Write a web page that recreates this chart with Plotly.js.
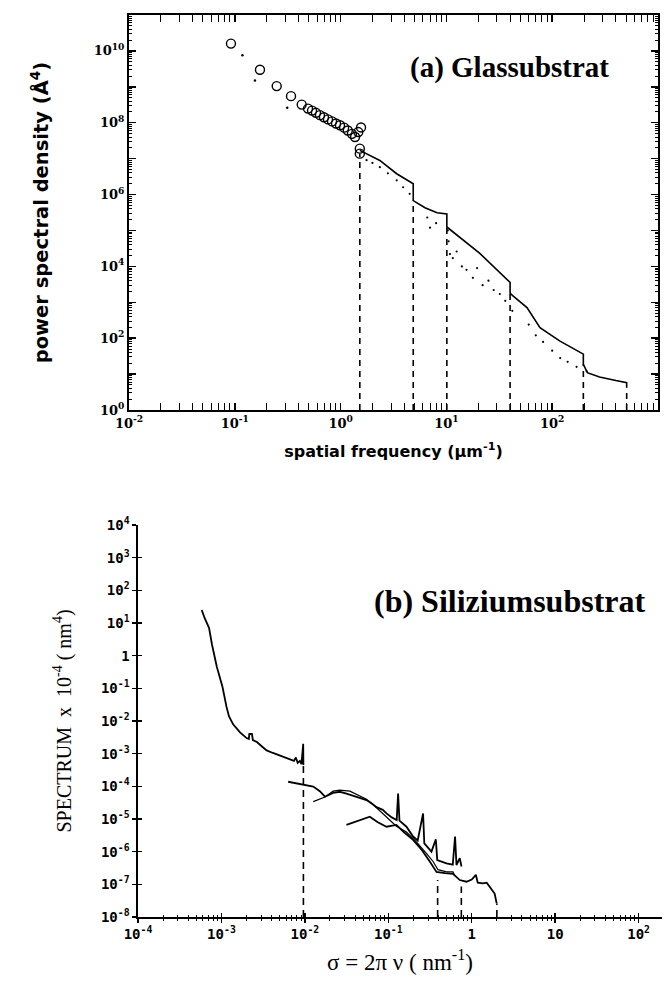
<!DOCTYPE html>
<html>
<head>
<meta charset="utf-8">
<script src="https://cdn.plot.ly/plotly-3.0.1.min.js"></script>
<style>html,body{margin:0;padding:0;background:#fff;}#chart{width:668px;height:988px;}</style>
</head>
<body>
<div id="chart"></div>
<script>
// ---------- Panel (a): Glassubstrat ----------
const circleFreqA = [0.092, 0.173, 0.249, 0.340, 0.429, 0.492, 0.537, 0.585, 0.638, 0.696, 0.760, 0.830, 0.905, 0.987, 1.08, 1.17, 1.28, 1.37, 1.47, 1.56, 1.52, 1.52];
const circlePsdA  = [1.6e10, 3.0e9, 1.05e9, 5.5e8, 3.2e8, 2.48e8, 2.18e8, 1.89e8, 1.63e8, 1.42e8, 1.24e8, 1.09e8, 9.5e7, 8.5e7, 7.3e7, 6.1e7, 4.9e7, 4.0e7, 5.5e7, 7.4e7, 1.9e7, 1.38e7];

const dotFreqA = [0.118, 0.155, 0.313];
const dotPsdA  = [7.6e9, 1.5e9, 2.6e8];

const lineFreqA = [1.52, 2.35, 3.39, 4.86, 4.86, 6.28, 8.15, 10.1, 10.1, 14.5, 20.7, 40, 40, 42.6, 57.8, 76.7, 118.6, 197, 197, 215, 280, 400, 506, 506];
const linePsdA  = [1.7e7, 8.9e6, 3.8e6, 2.0e6, 6.8e5, 4.3e5, 3.1e5, 2.9e5, 1.25e5, 5.2e4, 2.3e4, 3.6e3, 1.8e3, 1.5e3, 7.1e2, 1.95e2, 83, 36, 18.6, 11, 8.3, 6.6, 5.8, 4.2];

const scatFreqA = [1.76, 2.0, 2.35, 2.8, 3.39, 3.9, 4.5, 6.6, 7.0, 8.0, 10.3, 10.5, 10.8, 11.5, 12.5, 14, 15.5, 17.8, 19.5, 22, 25, 28, 32, 36, 42, 60, 70, 82, 100, 119, 140, 170, 212];
const scatPsdA  = [9.1e6, 7.6e6, 5.8e6, 3.9e6, 2.5e6, 1.6e6, 1.05e6, 2.3e5, 1.2e5, 1.6e5, 1.0e5, 5e4, 2.2e4, 1.7e4, 2.6e4, 1.0e4, 8e3, 4.8e3, 9e3, 3.0e3, 4e3, 2.2e3, 1.7e3, 1.1e3, 5.8e2, 2.4e2, 1.2e2, 79, 45, 28, 22, 16, 12];

const cutFreqA = [1.52, 4.86, 10.1, 40, 197, 506];
const cutPsdA  = [1.38e7, 6.8e5, 1.25e5, 1.8e3, 18.6, 4.2];

const xTickValsA = [1e-2, 1e-1, 1e0, 1e1, 1e2, 1e3];
const xTickTextA = ['10<sup>-2</sup>', '10<sup>-1</sup>', '10<sup>0</sup>', '10<sup>1</sup>', '10<sup>2</sup>', '10<sup>3</sup>'];
const yTickValsA = [1e0, 1e2, 1e4, 1e6, 1e8, 1e10];
const yTickTextA = ['10<sup>0</sup>', '10<sup>2</sup>', '10<sup>4</sup>', '10<sup>6</sup>', '10<sup>8</sup>', '10<sup>10</sup>'];
const yDecadeTicksA = [1e0, 1e1, 1e2, 1e3, 1e4, 1e5, 1e6, 1e7, 1e8, 1e9, 1e10, 1e11];

// ---------- Panel (b): Siliziumsubstrat ----------
const freqB1 = [5.8e-4, 6.3e-4, 7.1e-4, 7.7e-4, 8.8e-4, 1.03e-3, 1.15e-3, 1.23e-3, 1.38e-3, 1.67e-3, 2.0e-3, 2.13e-3, 2.16e-3, 2.32e-3, 2.38e-3, 2.64e-3, 3.06e-3, 3.48e-3, 4.14e-3, 5.0e-3, 5.76e-3, 6.6e-3, 7.4e-3, 7.8e-3, 8.2e-3, 8.7e-3, 9.1e-3, 9.55e-3, 9.6e-3];
const specB1 = [25, 14, 7.1, 2.2, 0.46, 0.11, 0.027, 0.014, 7.9e-3, 4.5e-3, 3.0e-3, 2.8e-3, 4.0e-3, 4.0e-3, 2.6e-3, 2.3e-3, 1.66e-3, 1.26e-3, 1.05e-3, 8.9e-4, 7.6e-4, 6.8e-4, 6.0e-4, 7.6e-4, 5.2e-4, 6.0e-4, 4.8e-4, 2.0e-3, 4.5e-4];

const freqB2 = [6.3e-3, 9.1e-3, 0.0126, 0.0151, 0.0174, 0.0218, 0.0262, 0.0315, 0.0397, 0.0456, 0.0548, 0.0634, 0.0722, 0.0859, 0.0951, 0.110, 0.126, 0.131, 0.136, 0.165, 0.198, 0.225, 0.261, 0.270, 0.329, 0.371, 0.386, 0.498, 0.592, 0.631, 0.656, 0.718, 0.753];
const specB2 = [1.38e-4, 1.17e-4, 9.8e-5, 7.1e-5, 4.8e-5, 6.3e-5, 6.8e-5, 6.0e-5, 5.0e-5, 4.5e-5, 3.8e-5, 3.0e-5, 2.3e-5, 1.9e-5, 1.48e-5, 1.12e-5, 9.3e-6, 6.0e-5, 8.9e-6, 5.8e-6, 2.9e-6, 2.2e-6, 1.48e-5, 1.78e-6, 1.0e-6, 2.4e-6, 5.5e-7, 4.4e-7, 4.0e-7, 2.9e-6, 3.9e-7, 6.3e-7, 3.5e-7];

const freqB3 = [0.0126, 0.0174, 0.0218, 0.0262, 0.0346, 0.0456, 0.0548, 0.0722, 0.0951, 0.125, 0.165, 0.217, 0.286, 0.344, 0.394, 0.498, 0.597, 0.625];
const specB3 = [3.4e-5, 4.7e-5, 7.1e-5, 7.6e-5, 7.1e-5, 5.0e-5, 4.0e-5, 2.2e-5, 1.12e-5, 6.0e-6, 4.0e-6, 2.0e-6, 8.9e-7, 5.0e-7, 2.8e-7, 2.4e-7, 2.4e-7, 1.8e-7];

const freqB4 = [0.0315, 0.0431, 0.060, 0.0748, 0.0951, 0.125, 0.153, 0.198, 0.252, 0.314, 0.378, 0.475, 0.597, 0.718, 0.863, 1.0, 1.12, 1.18, 1.36, 1.51, 1.64, 1.88, 1.99];
const specB4 = [6.6e-6, 8.9e-6, 1.17e-5, 7.9e-6, 5.8e-6, 6.6e-6, 4.0e-6, 2.3e-6, 1.12e-6, 5.0e-7, 2.4e-7, 2.2e-7, 2.1e-7, 1.35e-7, 1.2e-7, 1.4e-7, 1.95e-7, 1.12e-7, 1.07e-7, 1.12e-7, 8.5e-8, 5.2e-8, 2.6e-8];

const cutFreqB = [0.0096, 0.39, 0.75, 2.0];
const cutSpecB = [4.5e-4, 1.35e-7, 8.5e-8, 2.6e-8];

const xTickValsB = [1e-4, 1e-3, 1e-2, 1e-1, 1, 10, 100];
const xTickTextB = ['10<sup>-4</sup>', '10<sup>-3</sup>', '10<sup>-2</sup>', '10<sup>-1</sup>', '1', '10', '10<sup>2</sup>'];
const yTickValsB = [1e-8, 1e-7, 1e-6, 1e-5, 1e-4, 1e-3, 1e-2, 1e-1, 1, 10, 100, 1000, 10000];
const yTickTextB = ['10<sup>-8</sup>', '10<sup>-7</sup>', '10<sup>-6</sup>', '10<sup>-5</sup>', '10<sup>-4</sup>', '10<sup>-3</sup>', '10<sup>-2</sup>', '10<sup>-1</sup>', '1', '10<sup>1</sup>', '10<sup>2</sup>', '10<sup>3</sup>', '10<sup>4</sup>'];

// ---------- helpers ----------
function cutLines(freqs, tops, bottom) {
  const xs = [], ys = [];
  freqs.forEach((f, i) => { xs.push(f, f, null); ys.push(bottom, tops[i], null); });
  return {x: xs, y: ys};
}
function minorLog(lo, hi, maxVal) {
  const v = [];
  for (let e = lo; e <= hi; e++) for (let d = 2; d <= 9; d++) { const t = d * Math.pow(10, e); if (t <= maxVal) v.push(t); }
  return v;
}
const cutA = cutLines(cutFreqA, cutPsdA, 1);
const cutB = cutLines(cutFreqB, cutSpecB, 1e-8);

const traces = [
  {x: cutA.x, y: cutA.y, xaxis: 'x', yaxis: 'y4', mode: 'lines', line: {color: '#000', width: 1.6, dash: '6px,5px'}, connectgaps: false, hoverinfo: 'skip'},
  {x: scatFreqA, y: scatPsdA, xaxis: 'x', yaxis: 'y', mode: 'markers', marker: {color: '#000', size: 2.2}},
  {x: dotFreqA, y: dotPsdA, xaxis: 'x', yaxis: 'y', mode: 'markers', marker: {color: '#000', size: 2.5}},
  {x: lineFreqA, y: linePsdA, xaxis: 'x', yaxis: 'y', mode: 'lines', line: {color: '#000', width: 1.6}},
  {x: circleFreqA, y: circlePsdA, xaxis: 'x', yaxis: 'y', mode: 'markers', marker: {symbol: 'circle-open', color: '#000', size: 9, line: {width: 1.4, color: '#000'}}},

  {x: cutB.x, y: cutB.y, xaxis: 'x3', yaxis: 'y3', mode: 'lines', line: {color: '#000', width: 1.6, dash: '7px,5px'}, connectgaps: false, hoverinfo: 'skip'},
  {x: freqB1, y: specB1, xaxis: 'x2', yaxis: 'y2', mode: 'lines', line: {color: '#000', width: 1.8}},
  {x: freqB2, y: specB2, xaxis: 'x2', yaxis: 'y2', mode: 'lines', line: {color: '#000', width: 1.8}},
  {x: freqB3, y: specB3, xaxis: 'x2', yaxis: 'y2', mode: 'lines', line: {color: '#000', width: 1.2}},
  {x: freqB4, y: specB4, xaxis: 'x2', yaxis: 'y2', mode: 'lines', line: {color: '#000', width: 1.8}}
];

const tfA = {family: 'DejaVu Serif', size: 13, color: '#000', weight: 'bold'};
const tfB = {family: 'DejaVu Sans Mono', size: 14, color: '#000', weight: 'bold'};

const layout = {
  width: 668, height: 988,
  margin: {l: 0, r: 0, t: 0, b: 0},
  paper_bgcolor: '#fff', plot_bgcolor: '#fff',
  showlegend: false, hovermode: false,
  xaxis: {
    type: 'log', domain: [0.1931, 0.985], range: [-2, 3], anchor: 'y',
    showline: true, linewidth: 2, linecolor: '#000', mirror: 'allticks',
    ticks: 'inside', ticklen: 7, tickwidth: 1.5, tickcolor: '#000',
    tickmode: 'array', tickvals: xTickValsA, ticktext: xTickTextA, tickfont: tfA,
    minor: {ticks: 'inside', ticklen: 3.5, tickwidth: 1, tickcolor: '#000', tickmode: 'array', tickvals: minorLog(-2, 2, 1000), showgrid: false},
    showgrid: false, zeroline: false,
    title: {text: 'spatial frequency (μm<sup>-1</sup>)', font: {family: 'DejaVu Sans', size: 16, color: '#000', weight: 'bold'}, standoff: 16}
  },
  yaxis: {
    type: 'log', domain: [0.585, 0.9848], range: [0, 11], anchor: 'x',
    showline: true, linewidth: 2, linecolor: '#000', mirror: 'allticks',
    ticks: 'inside', ticklen: 7, tickwidth: 1.5, tickcolor: '#000',
    tickmode: 'array', tickvals: yTickValsA, ticktext: yTickTextA, tickfont: tfA,
    minor: {ticks: 'inside', ticklen: 3, tickwidth: 1, tickcolor: '#000', tickmode: 'array', tickvals: minorLog(0, 10, 1e11), showgrid: false},
    showgrid: false, zeroline: false,
    title: {text: 'power spectral density (Å<sup>4</sup>)', font: {family: 'DejaVu Sans', size: 19.5, color: '#000', weight: 'bold'}, standoff: 40}
  },
  yaxis4: {
    type: 'log', overlaying: 'y', range: [0, 11], anchor: 'x', side: 'left',
    showline: false, mirror: 'allticks', ticks: 'inside', ticklen: 7, tickwidth: 1.5, tickcolor: '#000',
    tickmode: 'array', tickvals: yDecadeTicksA, showticklabels: false,
    showgrid: false, zeroline: false
  },
  xaxis2: {
    type: 'log', domain: [0.2066, 0.991], range: [-4, 2.28], anchor: 'y2',
    showline: true, linewidth: 1.6, linecolor: '#000',
    ticks: 'outside', ticklen: 4, tickwidth: 1.5, tickcolor: '#000',
    tickmode: 'array', tickvals: xTickValsB, ticktext: xTickTextB, tickfont: tfB,
    minor: {ticks: 'outside', ticklen: 2, tickwidth: 1, tickcolor: '#000', tickmode: 'array', tickvals: minorLog(-4, 1, 190), showgrid: false},
    showgrid: false, zeroline: false,
    title: {text: 'σ = 2π ν ( nm<sup>-1</sup>)', font: {family: 'Liberation Serif', size: 23, color: '#000'}, standoff: 12}
  },
  yaxis2: {
    type: 'log', domain: [0.0719, 0.4686], range: [-8, 4], anchor: 'x2',
    showline: true, linewidth: 1.6, linecolor: '#000',
    ticks: 'outside', ticklen: 4, tickwidth: 1.5, tickcolor: '#000',
    tickmode: 'array', tickvals: yTickValsB, ticktext: yTickTextB, tickfont: tfB,
    showgrid: false, zeroline: false,
    title: {text: 'SPECTRUM  x  10<sup>-4</sup> ( nm<sup>4</sup>)', font: {family: 'Liberation Serif', size: 20, color: '#000'}, standoff: 24}
  },
  xaxis3: {
    type: 'log', overlaying: 'x2', range: [-4, 2.28], anchor: 'y3',
    showline: false, ticks: 'inside', ticklen: 4, tickwidth: 1.5, tickcolor: '#000',
    tickmode: 'array', tickvals: xTickValsB, showticklabels: false,
    minor: {ticks: 'inside', ticklen: 2, tickwidth: 1, tickcolor: '#000', tickmode: 'array', tickvals: minorLog(-4, 1, 190), showgrid: false},
    showgrid: false, zeroline: false
  },
  yaxis3: {
    type: 'log', overlaying: 'y2', range: [-8, 4], anchor: 'x3',
    showline: false, ticks: 'inside', ticklen: 4, tickwidth: 1.5, tickcolor: '#000',
    tickmode: 'array', tickvals: yTickValsB, showticklabels: false,
    showgrid: false, zeroline: false
  },
  annotations: [
    {text: '(a) Glassubstrat', xref: 'paper', yref: 'paper', x: 0.762, y: 0.932, xanchor: 'center', yanchor: 'middle', showarrow: false,
     font: {family: 'Liberation Serif', size: 29, color: '#000', weight: 'bold'}},
    {text: '(b) Siliziumsubstrat', xref: 'paper', yref: 'paper', x: 0.763, y: 0.3917, xanchor: 'center', yanchor: 'middle', showarrow: false,
     font: {family: 'Liberation Serif', size: 32, color: '#000', weight: 'bold'}}
  ]
};

Plotly.newPlot('chart', traces, layout, {staticPlot: true, displayModeBar: false});
</script>
</body>
</html>
